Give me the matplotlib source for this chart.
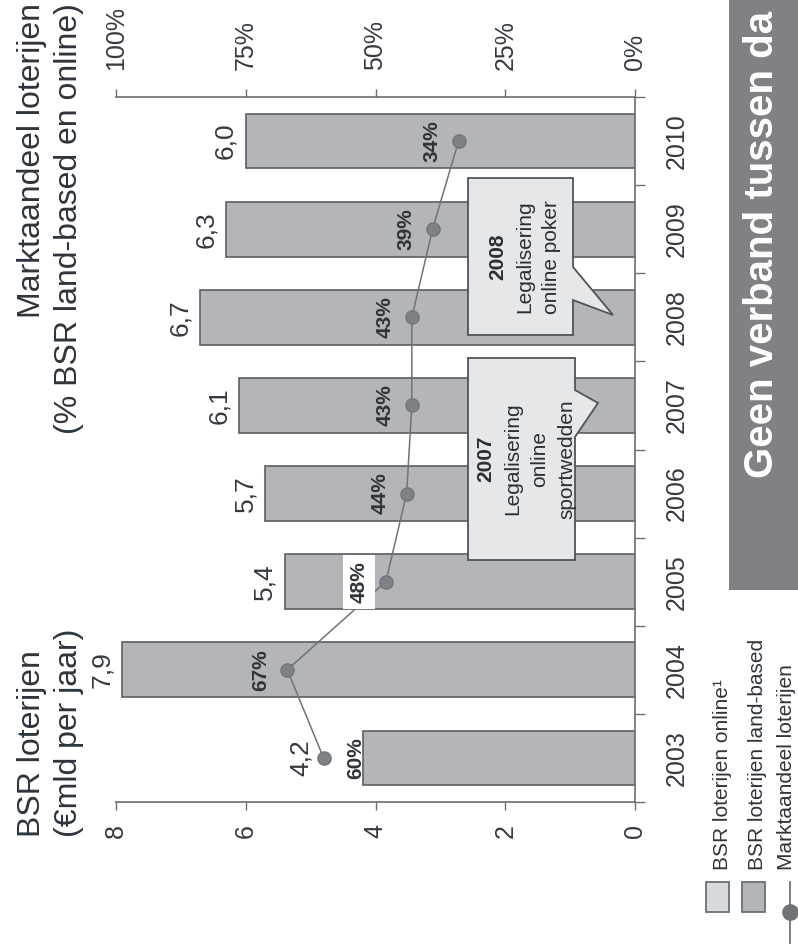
import numpy as np
import matplotlib
matplotlib.use('Agg')
import matplotlib.pyplot as plt
from matplotlib.patches import Polygon, Rectangle
from matplotlib.lines import Line2D

plt.rcParams['font.family'] = ['Liberation Sans', 'DejaVu Sans']

# --- data (the scanned slide is rotated 90 degrees, so is the chart) ---
years = ['2003', '2004', '2005', '2006', '2007', '2008', '2009', '2010']
bsr_total = [4.2, 7.9, 5.4, 5.7, 6.1, 6.7, 6.3, 6.0]          # EUR mld per jaar
bsr_labels = ['4,2', '7,9', '5,4', '5,7', '6,1', '6,7', '6,3', '6,0']
share = [60, 67, 48, 44, 43, 43, 39, 34]                       # % marktaandeel
share_labels = ['60%', '67%', '48%', '44%', '43%', '43%', '39%', '34%']
value_ticks = [0, 2, 4, 6, 8]
share_ticks = [0, 25, 50, 75, 100]

W, H = 798, 949
TXT = '#343a40'
AX = '#6a6e73'
BAR = '#b4b5b8'
EDGE = '#5b5f63'
LIGHT = '#e6e7e9'

def fx(px): return px / W
def fy(py): return 1 - py / H

fig = plt.figure(figsize=(W / 100, H / 100), dpi=100)
ax = fig.add_axes([fx(116), fy(802), (635 - 116) / W, (802 - 97) / H])
idx = np.arange(len(years))

ax.barh(idx, bsr_total, height=0.62, color=BAR, edgecolor=EDGE, linewidth=1.2, zorder=2)
ax.set_xlim(8, 0)
ax.set_ylim(-0.5, len(years) - 0.5)
for s in ('left', 'top'): ax.spines[s].set_visible(False)
for s in ('bottom', 'right'): ax.spines[s].set_color(AX); ax.spines[s].set_linewidth(1.2)

ax.set_xticks(value_ticks)
ax.set_xticklabels([str(v) for v in value_ticks], rotation=90)
ax.tick_params(axis='x', direction='out', length=5.8, width=1, color=AX, pad=10,
               labelsize=18, labelcolor=TXT)
ax.yaxis.tick_right()
ax.set_yticks(idx)
ax.set_yticklabels(years, rotation=90, va='center')
ax.set_yticks(np.arange(len(years) + 1) - 0.5, minor=True)
ax.tick_params(axis='y', which='major', length=0, pad=21.6, labelsize=18, labelcolor=TXT)
ax.tick_params(axis='y', which='minor', length=7.2, width=1, color=AX, direction='out')

for i, (v, lab) in enumerate(zip(bsr_total, bsr_labels)):
    off = -44.6 if i == 0 else -14.5
    ax.annotate(lab, (v, i), xytext=(off, 0), textcoords='offset points', rotation=90,
                ha='center', va='center', fontsize=19, color=TXT, zorder=4, annotation_clip=False)

# market share on the percent axis (top)
ax2 = ax.twiny()
ax2.set_xlim(100, 0)
for s in ('left', 'bottom', 'right'): ax2.spines[s].set_visible(False)
ax2.spines['top'].set_color(AX); ax2.spines['top'].set_linewidth(1.2)
ax2.set_xticks(share_ticks)
ax2.set_xticklabels([f'{t}%' for t in share_ticks], rotation=90)
ax2.tick_params(axis='x', direction='out', length=5.8, width=1, color=AX, pad=13.7,
                labelsize=18, labelcolor=TXT)
ax2.plot(share, idx, '-o', color='#6f7378', lw=1.1, ms=9.5, mfc='#7e8186', mec='#72767b', zorder=3)
for i, (p, lab) in enumerate(zip(share, share_labels)):
    off = 23 if i == 0 else -19.4
    bb = dict(boxstyle='square,pad=0.3', fc='white', ec='none') if lab == '48%' else None
    ax2.annotate(lab, (p, i), xytext=(off, 0), textcoords='offset points', rotation=90,
                 ha='center', va='center', fontsize=15, fontweight='bold', color='#2f3439',
                 bbox=bb, zorder=5)

# --- callouts ---
def callout(pts, lines, cy):
    fig.patches.append(Polygon([(fx(x), fy(y)) for x, y in pts], closed=True, fc=LIGHT, ec='#4f5459',
                               lw=1.3, transform=fig.transFigure, zorder=5))
    for bx, txt, bold in lines:
        fig.text(fx(bx), fy(cy), txt, rotation=90, rotation_mode='anchor', ha='center', va='baseline',
                 fontsize=15, fontweight='bold' if bold else 'normal', color='#2a2f34', zorder=6)

callout([(468, 358), (575, 358), (575, 390), (598, 403), (575, 437), (575, 560), (468, 560)],
        [(491, '2007', True), (518, 'Legalisering', False), (545, 'online', False),
         (572, 'sportwedden', False)], 459)
callout([(468, 178), (573, 178), (573, 267), (613, 315), (573, 300), (573, 335), (468, 335)],
        [(503, '2008', True), (530, 'Legalisering', False), (557, 'online poker', False)], 257)

# --- axis titles ---
for bx, txt in ((40, 'BSR loterijen'), (77, '(€mld per jaar)')):
    fig.text(fx(bx), fy(837), txt, rotation=90, rotation_mode='anchor', ha='left', va='baseline',
             fontsize=23, color='#2d343b')
for bx, txt in ((40, 'Marktaandeel loterijen'), (77, '(% BSR land-based en online)')):
    fig.text(fx(bx), fy(3), txt, rotation=90, rotation_mode='anchor', ha='right', va='baseline',
             fontsize=23, color='#2d343b')

# --- banner ---
fig.patches.append(Rectangle((fx(729), fy(590)), fx(800) - fx(729), fy(0) - fy(590), fc='#808185',
                             ec='none', transform=fig.transFigure, zorder=1))
fig.text(fx(773), fy(478), 'Geen verband tussen da', rotation=90, rotation_mode='anchor', ha='left',
         va='baseline', fontsize=29, fontweight='bold', color='white', zorder=2)

# --- legend ---
for x0, c in ((706, '#d9dadc'), (742, '#b4b5b8')):
    fig.patches.append(Rectangle((fx(x0), fy(912)), 23 / W, 30 / H, fc=c, ec='#6a7078', lw=1.3,
                                 transform=fig.transFigure, zorder=2))
fig.lines.append(Line2D([fx(790), fx(790)], [fy(882), fy(943)], color='#6f7378', lw=1.3,
                        transform=fig.transFigure))
fig.lines.append(Line2D([fx(790)], [fy(912)], marker='o', ms=11, mfc='#6f7378', mec='#6f7378',
                        transform=fig.transFigure))
for bx, txt in ((728, 'BSR loterijen online¹'), (763, 'BSR loterijen land-based'),
                (792, 'Marktaandeel loterijen')):
    fig.text(fx(bx), fy(870), txt, rotation=90, rotation_mode='anchor', ha='left', va='baseline',
             fontsize=15, color='#2d343b')

fig.savefig('out.png', dpi=100)
